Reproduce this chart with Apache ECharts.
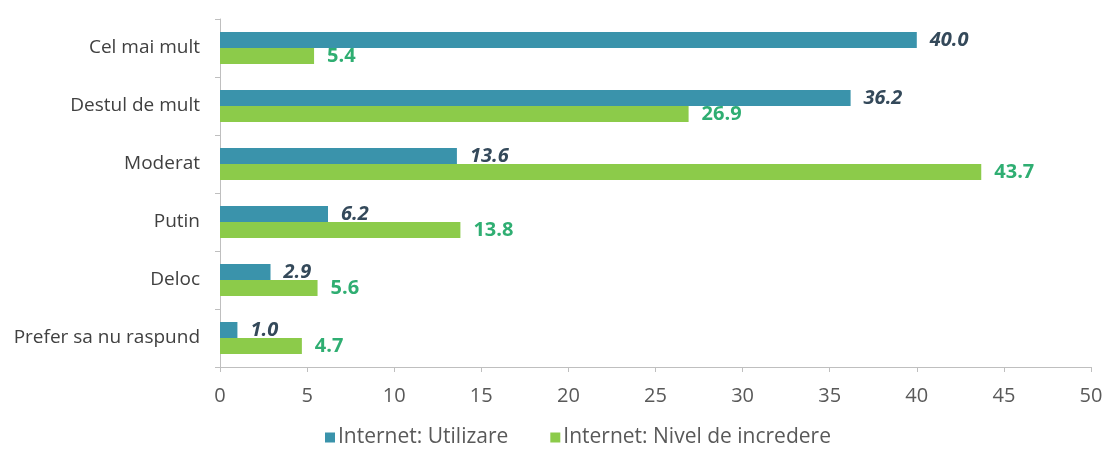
<!DOCTYPE html>
<html>
<head>
<meta charset="utf-8">
<script src="https://cdn.jsdelivr.net/npm/echarts@6/dist/echarts.min.js"></script>
<style>
  html, body { margin: 0; padding: 0; background: #fff; }
  #chart { width: 1109px; height: 453px; }
</style>
</head>
<body>
<div id="chart"></div>
<script>
// Response categories, listed top to bottom
const categories = ['Cel mai mult', 'Destul de mult', 'Moderat', 'Putin', 'Deloc', 'Prefer sa nu raspund'];
// Percent of respondents
const utilizare = [40.0, 36.2, 13.6, 6.2, 2.9, 1.0];
const incredere = [5.4, 26.9, 43.7, 13.8, 5.6, 4.7];
const seriesNames = ['Internet: Utilizare', 'Internet: Nivel de incredere'];

const FONT = 'Open Sans, Noto Sans, sans-serif';
const chart = echarts.init(document.getElementById('chart'));

chart.setOption({
  animation: false,
  backgroundColor: '#fff',
  grid: { left: 220, right: 18, top: 19, bottom: 86, containLabel: false },
  legend: {
    bottom: 0,
    left: 320,
    itemWidth: 10,
    itemHeight: 10,
    itemGap: 42,
    icon: 'rect',
    textStyle: { fontFamily: FONT, fontSize: 21, color: '#595959', padding: [0, 0, 0, -2] },
    data: seriesNames
  },
  xAxis: {
    type: 'value',
    min: 0,
    max: 50,
    interval: 5,
    axisLine: { show: true, lineStyle: { color: '#bfbfbf' } },
    axisTick: { show: true, length: 5, lineStyle: { color: '#bfbfbf' } },
    splitLine: { show: false },
    axisLabel: { fontFamily: FONT, fontSize: 20, color: '#595959', margin: 19 }
  },
  yAxis: {
    type: 'category',
    inverse: true,
    data: categories,
    axisLine: { show: true, lineStyle: { color: '#bfbfbf' } },
    axisTick: { show: true, length: 5, lineStyle: { color: '#bfbfbf' } },
    axisLabel: { fontFamily: FONT, fontSize: 19, color: '#404040', margin: 20 }
  },
  series: [
    {
      name: seriesNames[0],
      type: 'bar',
      data: utilizare,
      barWidth: 16,
      barGap: '0%',
      itemStyle: { color: '#3A93AB' },
      label: {
        show: true,
        position: 'right',
        distance: 13,
        formatter: p => p.value.toFixed(1),
        fontFamily: FONT,
        fontSize: 20,
        fontWeight: 'bold',
        fontStyle: 'italic',
        color: '#34495a'
      }
    },
    {
      name: seriesNames[1],
      type: 'bar',
      data: incredere,
      barWidth: 16,
      barGap: '0%',
      itemStyle: { color: '#8CCB4A' },
      label: {
        show: true,
        position: 'right',
        distance: 13,
        formatter: p => p.value.toFixed(1),
        fontFamily: FONT,
        fontSize: 20,
        fontWeight: 'bold',
        color: '#2FAE72'
      }
    }
  ]
});
</script>
</body>
</html>
